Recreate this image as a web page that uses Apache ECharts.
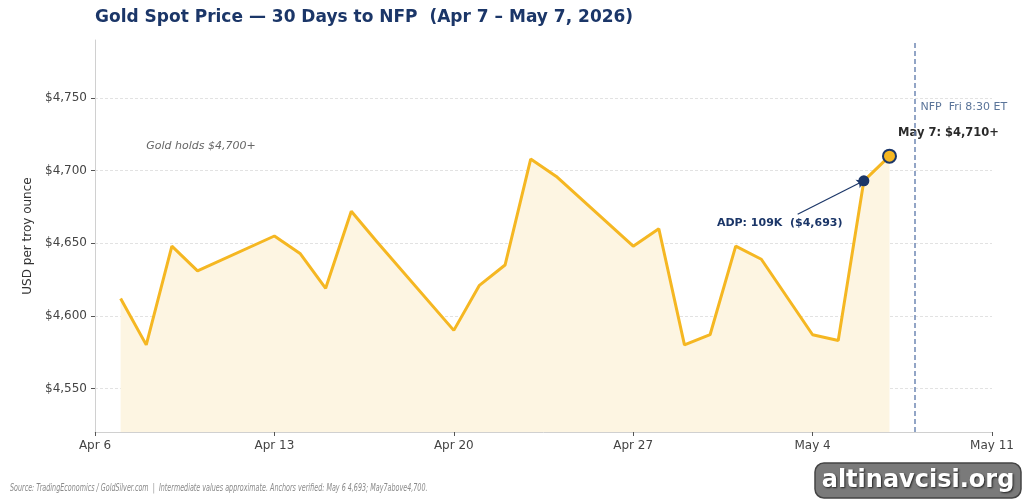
<!DOCTYPE html>
<html>
<head>
<meta charset="utf-8">
<script src="https://cdn.jsdelivr.net/npm/echarts@6/dist/echarts.min.js"></script>
<style>
  html, body { margin: 0; padding: 0; background: #fff; }
  #chart { width: 1024px; height: 504px; }
</style>
</head>
<body>
<div id="chart"></div>
<script>
// gold spot, daily closes (approx)
var dates = ['2026-04-07', '2026-04-08', '2026-04-09', '2026-04-10', '2026-04-13', '2026-04-14',
  '2026-04-15', '2026-04-16', '2026-04-17', '2026-04-20', '2026-04-21', '2026-04-22', '2026-04-23',
  '2026-04-24', '2026-04-27', '2026-04-28', '2026-04-29', '2026-04-30', '2026-05-01', '2026-05-02',
  '2026-05-04', '2026-05-05', '2026-05-06', '2026-05-07'];
var prices = [4612, 4580, 4648, 4631, 4655, 4643, 4619, 4672, 4651, 4590, 4621, 4635, 4708,
  4696, 4648, 4660, 4580, 4587, 4648, 4639, 4587, 4583, 4693, 4710];

var yTicks = [4550, 4600, 4650, 4700, 4750];
var xTicks = ['2026-04-06', '2026-04-13', '2026-04-20', '2026-04-27', '2026-05-04', '2026-05-11'];
var nfpDate = '2026-05-08';

var FONT = 'DejaVu Sans';
var NAVY = '#1b3668';
var GOLD = '#f5b722';
var NFP_BLUE = '#6f88b4';

function ts(s) {
  var p = s.split('-');
  return new Date(+p[0], +p[1] - 1, +p[2]).getTime();
}
var HOUR = 3600e3;
var MONTHS = ['Jan', 'Feb', 'Mar', 'Apr', 'May', 'Jun', 'Jul', 'Aug', 'Sep', 'Oct', 'Nov', 'Dec'];

var lineData = dates.map(function (d, i) { return [ts(d), prices[i]]; });
var adpPt = lineData[lineData.length - 2];
var lastPt = lineData[lineData.length - 1];

var dom = document.getElementById('chart');
var myChart = echarts.init(dom);

// x axis is a plain value axis holding timestamps (ticks set by hand)
var option = {
  animation: false,
  backgroundColor: '#fff',
  title: {
    text: 'Gold Spot Price \u2014 30 Days to NFP  (Apr 7 \u2013 May 7, 2026)',
    left: 90, top: 4,
    textStyle: { fontFamily: FONT, fontSize: 17, fontWeight: 'bold', color: NAVY }
  },
  grid: { left: 95, right: 32, top: 40, bottom: 72 },
  xAxis: {
    type: 'value',
    min: ts(xTicks[0]),
    max: ts(xTicks[xTicks.length - 1]),
    axisLine: { lineStyle: { color: '#d0d0d0' } },
    axisTick: { show: true, length: 4, lineStyle: { color: '#555' }, customValues: xTicks.map(ts) },
    axisLabel: {
      customValues: xTicks.map(ts),
      color: '#444', fontFamily: FONT, fontSize: 12, margin: 8,
      formatter: function (v) {
        var d = new Date(v);
        return MONTHS[d.getMonth()] + ' ' + d.getDate();
      }
    },
    splitLine: { show: false }
  },
  yAxis: {
    type: 'value',
    min: 4520, max: 4790,
    name: 'USD per troy ounce',
    nameLocation: 'middle',
    nameGap: 60,
    nameTextStyle: { fontFamily: FONT, fontSize: 12, color: '#333' },
    axisLine: { show: true, lineStyle: { color: '#d0d0d0' } },
    axisTick: { show: true, length: 4, lineStyle: { color: '#555' }, customValues: yTicks },
    axisLabel: {
      customValues: yTicks,
      color: '#444', fontFamily: FONT, fontSize: 12, margin: 8,
      formatter: function (v) { return '$' + v.toLocaleString('en-US'); }
    },
    splitLine: { show: true, lineStyle: { color: '#e2e2e2', type: [3, 2] } }
  },
  series: [{
    type: 'line',
    data: lineData,
    symbol: 'none',
    lineStyle: { color: GOLD, width: 3 },
    areaStyle: { color: '#fdf5e2', origin: 'start', opacity: 1 },
    z: 3,
    markLine: {
      silent: true,
      symbol: ['none', 'none'],
      label: { show: false },
      data: [
        { xAxis: ts(nfpDate), lineStyle: { color: NFP_BLUE, type: [5, 3], width: 1.5, opacity: 1 } },
        [
          { coord: [ts('2026-05-03') + 10 * HOUR, 4670], symbol: 'none', lineStyle: { color: NAVY, width: 1.2, type: 'solid', opacity: 1 } },
          { coord: adpPt, symbol: 'arrow', symbolSize: 7 }
        ]
      ]
    }
  }, {
    type: 'scatter',
    data: [
      { value: adpPt, symbolSize: 11, itemStyle: { color: NAVY, opacity: 1 } },
      { value: lastPt, symbolSize: 13, itemStyle: { color: GOLD, borderColor: NAVY, borderWidth: 2, opacity: 1 } }
    ],
    z: 5
  }]
};

myChart.setOption(option, true);

// text annotations anchored in data space
function px(d, v) { return myChart.convertToPixel({ gridIndex: 0 }, [d, v]); }
var pHold = px(ts('2026-04-08'), 4717);
var pMay7 = px(ts('2026-05-07') + 8 * HOUR, 4726);
var pAdp = px(ts('2026-05-05') + 4 * HOUR, 4664);
var pNfp = px(ts(nfpDate) + 5 * HOUR, 4744);

myChart.setOption({
  graphic: [
    { type: 'text', x: pHold[0], y: pHold[1], style: { text: 'Gold holds $4,700+', fontFamily: FONT, fontSize: 11, fontStyle: 'italic', fill: '#666', verticalAlign: 'middle' } },
    { type: 'text', x: pMay7[0], y: pMay7[1], style: { text: 'May 7: $4,710+', fontFamily: FONT, fontSize: 11.5, fontWeight: 'bold', fill: '#2a2a2a', verticalAlign: 'middle' } },
    { type: 'text', x: pAdp[0], y: pAdp[1], style: { text: 'ADP: 109K  ($4,693)', fontFamily: FONT, fontSize: 11, fontWeight: 'bold', fill: NAVY, align: 'right', verticalAlign: 'middle' } },
    { type: 'text', x: pNfp[0], y: pNfp[1], style: { text: 'NFP  Fri 8:30 ET', fontFamily: FONT, fontSize: 11, fill: '#5a7499', verticalAlign: 'middle' } },
    { type: 'text', x: 10, y: 488, scaleX: 0.64, style: { text: 'Source: TradingEconomics / GoldSilver.com  |  Intermediate values approximate. Anchors verified: May 6 4,693; May7above4,700.', fontFamily: FONT, fontSize: 10, fontStyle: 'italic', fill: '#8a8a8a', verticalAlign: 'middle' } },
    // site watermark
    { type: 'rect', shape: { x: 815, y: 463, width: 206, height: 35, r: 9 }, style: { fill: '#7a7a7a', stroke: '#444', lineWidth: 1.5 }, z: 100 },
    { type: 'text', x: 918, y: 481, z: 101, style: { text: 'altinavcisi.org', fontFamily: FONT, fontSize: 24, fontWeight: 'bold', fill: '#fff', align: 'center', verticalAlign: 'middle', textShadowColor: '#222', textShadowBlur: 2, textShadowOffsetX: 1, textShadowOffsetY: 1 } }
  ]
});
</script>
</body>
</html>
